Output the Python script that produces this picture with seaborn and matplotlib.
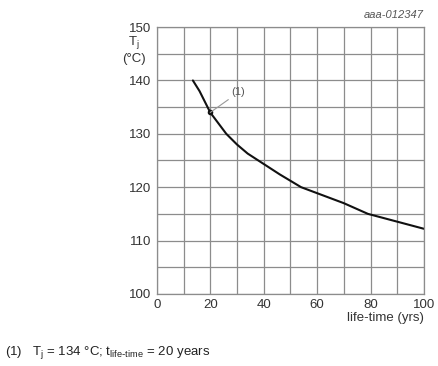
import numpy as np
import matplotlib
matplotlib.use("Agg")
import matplotlib.pyplot as plt
import seaborn as sns
import pandas as pd

# Curve values
life_time = [13.5, 16, 18, 20, 23, 26, 30, 34, 38, 46, 54, 62, 70, 79, 88, 100]
tj = [140, 138, 136, 134, 132, 130, 128, 126.3, 125, 122.4, 120, 118.5, 117, 115, 113.8, 112.2]
x_ticks = [0, 20, 40, 60, 80, 100]
y_ticks = [100, 110, 120, 130, 140, 150]
note_x, note_y = 20, 134

df = pd.DataFrame({"life": life_time, "tj": tj})

sns.set_style("white")
plt.rcParams["font.family"] = ["Liberation Sans", "DejaVu Sans"]

fig = plt.figure(figsize=(4.38, 3.66), dpi=100)
ax = fig.add_axes([0.358, 0.197, 0.61, 0.729])

sns.lineplot(data=df, x="life", y="tj", ax=ax, color="#111111", linewidth=1.5)

ax.set_xlim(0, 100)
ax.set_ylim(100, 150)
ax.set_xticks(np.arange(0, 101, 10), minor=False)
ax.set_yticks(np.arange(100, 151, 5))
ax.set_xticklabels([str(v) if v in x_ticks else "" for v in range(0, 101, 10)])
ax.set_yticklabels([str(v) if v in y_ticks else "" for v in range(100, 151, 5)])
ax.grid(True, color="#8c8c8c", linewidth=0.9)
ax.tick_params(length=0, labelsize=9.5, colors="#333333", pad=4)
for s in ax.spines.values():
    s.set_color("#8c8c8c")
    s.set_linewidth(0.9)
ax.set_xlabel("")
ax.set_ylabel("")

# marker and callout
ax.plot(note_x, note_y, "o", color="#111111", markersize=3)
ax.annotate("(1)", xy=(note_x, note_y), xytext=(28, 137.2), fontsize=8,
            color="#555555",
            arrowprops=dict(arrowstyle="-", color="#999999", lw=0.8,
                            shrinkA=0, shrinkB=0))

fig.text(0.305, 0.885, "T$_\\mathregular{j}$", fontsize=9.5, ha="center", va="center", color="#333333")
fig.text(0.305, 0.840, "(°C)", fontsize=9.5, ha="center", va="center", color="#333333")
fig.text(0.968, 0.945, "aaa-012347", fontsize=8, ha="right", va="bottom",
         style="italic", color="#555555")
fig.text(0.968, 0.13, "life-time (yrs)", fontsize=9.5, ha="right", va="center", color="#333333")
fig.text(0.012, 0.038, "(1)   T$_\\mathregular{j}$ = 134 °C; t$_\\mathregular{life\\text{-}time}$ = 20 years",
         fontsize=9.5, ha="left", va="center", color="#222222")

fig.savefig("out.png", dpi=100)
